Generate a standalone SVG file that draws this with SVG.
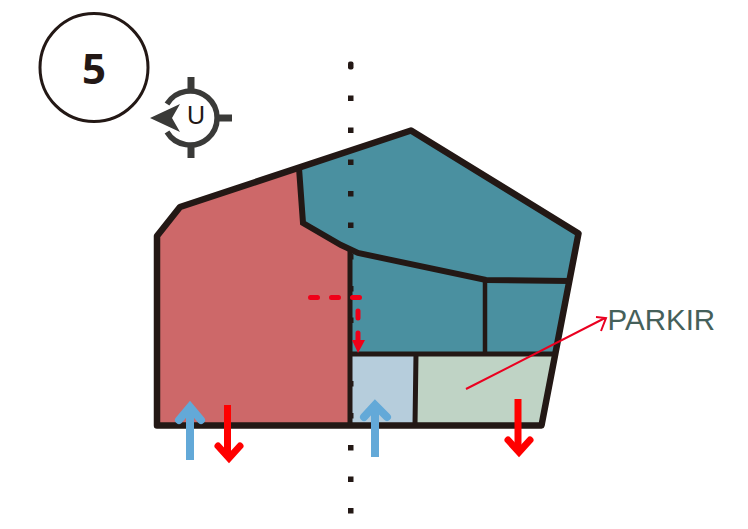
<svg xmlns="http://www.w3.org/2000/svg" width="748" height="529" viewBox="0 0 748 529">
<style>
.w{fill:none;stroke:#231815;stroke-linejoin:miter;stroke-linecap:butt}
.red{fill:none;stroke:#ff0000;stroke-linejoin:miter}
.blue{fill:none;stroke:#63a9d8;stroke-width:8}
.dot{fill:#231815}
</style>
<rect width="748" height="529" fill="#fff"/>
<g id="zone-red"><polygon points="157,425 157,236 180,207 299,168 303,223 350,251 350,425" fill="#cd6869"/></g>
<g id="zone-teal"><polygon points="299,168 411,130 578,233 556,354 350,354 350,251 303,223" fill="#4a90a0"/></g>
<g id="zone-blue"><polygon points="350,354 416,354 416,425 350,425" fill="#b6cddc"/></g>
<g id="zone-green"><polygon points="416,354 556,354 541,425 416,425" fill="#bfd3c5"/></g>
<g id="walls">
<polygon class="w" stroke-width="6.500" style="stroke-linejoin:round" points="157,425.500 157,236 180,207 411,130.500 578.500,233.500 541.500,425.500"/>
<polyline class="w" stroke-width="6" points="299,168 303,223 341,245 358,253 486,280 570,281"/>
<path class="w" stroke-width="5" d="M350,251V425"/>
<path class="w" stroke-width="5" d="M350,354H556M416,354L415,425"/>
<path class="w" stroke-width="4.500" d="M485,280V354"/>
</g>
<g id="axis">
<rect class="dot" x="348" y="61.500" width="5.500" height="8" rx="2"/><rect class="dot" x="348" y="95.500" width="5.500" height="5.500"/><rect class="dot" x="348" y="127.500" width="5.500" height="5.500"/><rect class="dot" x="348" y="159.500" width="5.500" height="5.500"/><rect class="dot" x="348" y="191" width="5.500" height="5.500"/><rect class="dot" x="348" y="222.500" width="5.500" height="5.500"/><rect class="dot" x="348" y="254" width="5.500" height="5.500"/><rect class="dot" x="348" y="286" width="5.500" height="5.500"/><rect class="dot" x="348" y="317.500" width="5.500" height="5.500"/><rect class="dot" x="348" y="381" width="5.500" height="5.500"/><rect class="dot" x="348" y="413" width="5.500" height="5.500"/><rect class="dot" x="348" y="445" width="5.500" height="5.500"/><rect class="dot" x="348" y="476.500" width="5.500" height="5.500"/><rect class="dot" x="348" y="508" width="5.500" height="5.500"/>
</g>
<g id="connectors">
<path d="M310.500,297.500H360M358,311V320" fill="none" stroke="#f00018" stroke-width="5" stroke-linecap="round" stroke-dasharray="7 14"/>
<path d="M358,333V342" fill="none" stroke="#f00018" stroke-width="5" stroke-linecap="round"/>
<polygon points="352,340 365,340 358,353" fill="#f00018"/>
<path class="blue" d="M190,460V408"/><path class="blue" stroke-linecap="round" stroke-linejoin="miter" d="M179,420L190,407L201,420"/>
<path class="blue" d="M375,457V407"/><path class="blue" stroke-linecap="round" stroke-linejoin="miter" d="M364,417L375,405L387,417"/>
<path class="red" stroke-width="7" d="M227.500,405V458"/><path class="red" stroke-width="7" stroke-linecap="round" d="M218,446L229,458L240,446"/>
<path class="red" stroke-width="7" d="M518,399V452"/><path class="red" stroke-width="7" stroke-linecap="round" d="M508,440L519,452L530,440"/>
<path d="M466,389L605,318M596,317L606,318L601,331" fill="none" stroke="#ea0020" stroke-width="2"/>
</g>
<g id="label-parkir"><text x="607.500" y="330" font-family="Liberation Sans, Arial, sans-serif" font-size="29.500" fill="#45605a">PARKIR</text></g>
<g id="badge">
<circle cx="94" cy="67.500" r="54" fill="#fff" stroke="#231815" stroke-width="3"/>
<text x="94" y="83.500" text-anchor="middle" font-family="Open Sans, Noto Sans, sans-serif" font-weight="700" font-size="42" fill="#231815">5</text>
</g>
<g id="north">
<path d="M167,104A27,27 0 1 1 167,132" fill="none" stroke="#3a3a38" stroke-width="5.500"/>
<path d="M191,77V92M191,144V158M218,118H232" fill="none" stroke="#3a3a38" stroke-width="7"/>
<polygon points="150,118 180,104 172,118 180,132" fill="#3a3a38"/>
<text x="196" y="124" text-anchor="middle" font-family="Liberation Sans, Arial, sans-serif" font-size="25" fill="#231815">U</text>
</g>
</svg>
